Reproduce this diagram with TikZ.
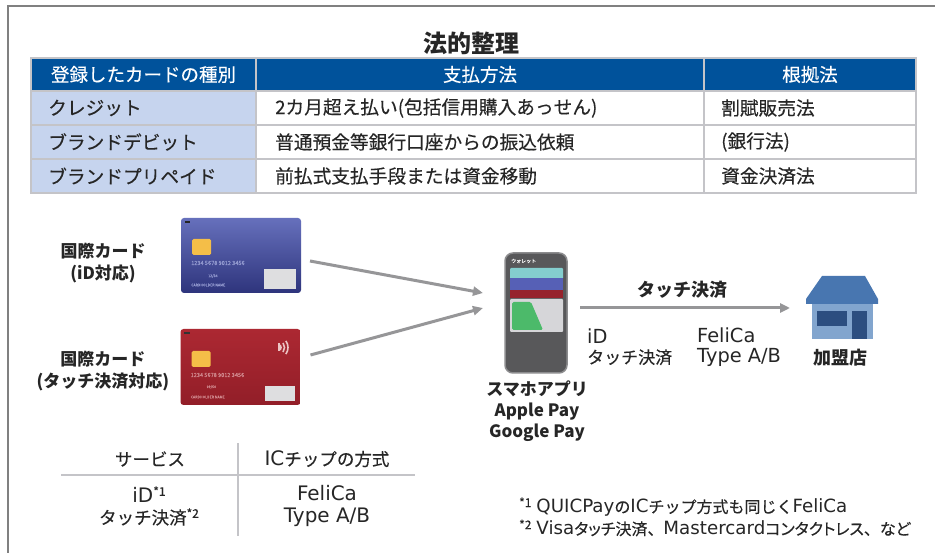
\documentclass[tikz,border=0pt]{standalone}
\usepackage{fontspec}
\setmainfont{Noto Sans CJK JP}[UprightFeatures={FakeBold=0.25}]
\newfontfamily\latf{DejaVu Sans}[Scale=1.14]
\usetikzlibrary{calc,arrows.meta}

\definecolor{txt}{RGB}{38,38,38}
\definecolor{hdrblue}{RGB}{0,82,155}
\definecolor{cellblue}{RGB}{198,212,238}
\definecolor{gridgray}{RGB}{196,196,200}
\definecolor{framegray}{RGB}{128,128,128}
\definecolor{arrgray}{RGB}{150,150,152}
\definecolor{cardblueT}{RGB}{102,112,188}
\definecolor{cardblueB}{RGB}{46,52,124}
\definecolor{cardredT}{RGB}{172,40,50}
\definecolor{cardredB}{RGB}{146,30,40}
\definecolor{chipyellow}{RGB}{244,190,72}
\definecolor{panelgray}{RGB}{222,222,224}
\definecolor{nfcpink}{RGB}{236,196,196}
\definecolor{phonebody}{RGB}{88,88,90}
\definecolor{phoneedge}{RGB}{140,140,142}
\definecolor{wcyan}{RGB}{132,206,206}
\definecolor{wblue}{RGB}{86,96,182}
\definecolor{wred}{RGB}{150,34,44}
\definecolor{wcard}{RGB}{214,214,217}
\definecolor{wgreen}{RGB}{76,186,106}
\definecolor{roofblue}{RGB}{72,118,176}
\definecolor{wallblue}{RGB}{130,165,206}
\definecolor{winblue}{RGB}{44,78,128}

\newcommand\setfs[1]{\fontsize{#1}{#1}\selectfont}
\newcommand\fnmark[1]{\raisebox{0.36em}{\fontsize{12}{12}\selectfont #1}}
\newcommand\lat[1]{{\latf #1}}
\newcommand\fullcomma{{\addfontfeatures{RawFeature=-palt}、}}

\tikzset{
  cell/.style={draw=gridgray, line width=2pt, anchor=north west, inner sep=0pt,
    outer sep=0pt, minimum height=34},
  hdtext/.style={text=white, font=\setfs{18.5}, inner sep=0pt},
  bodytext/.style={text=txt, font=\setfs{18.7}, inner sep=0pt, anchor=west},
  cardlbl/.style={text=txt, font=\bfseries\fontsize{17}{22}\selectfont, align=center, inner sep=0pt},
  plain/.style={text=txt, font=\fontsize{17}{20}\selectfont, align=left, inner sep=0pt},
  card/.style={rounded corners=3, minimum width=120, minimum height=75, inner sep=0pt, outer sep=0pt},
  flow/.style={draw=arrgray, line width=3pt, -{Triangle[length=10pt,width=9pt]}},
  tiny/.style={inner sep=0pt, anchor=west},
  rule/.style={draw=gridgray, line width=2pt},
  note/.style={text=txt, font=\setfs{16}, inner sep=0pt, anchor=west},
}

\begin{document}
\begin{tikzpicture}[x=1pt,y=-1pt]
\useasboundingbox (0,0) rectangle (935,553);
\fill[white] (0,0) rectangle (935,553);

% outer frame (top and left edges)
\draw[framegray, line width=1.5pt] (8,553) -- (8,6) -- (935,6);

% ---------- legal summary table ----------
\node[text=txt, font=\bfseries\setfs{24}, inner sep=0pt] (title) at (471,43) {法的整理};

\node[cell, fill=hdrblue, minimum width=225, minimum height=33] (h1) at (31,58) {};
\node[cell, fill=hdrblue, minimum width=448, minimum height=33] (h2) at (h1.north east) {};
\node[cell, fill=hdrblue, minimum width=212, minimum height=33] (h3) at (h2.north east) {};

\node[cell, fill=cellblue, minimum width=225] (a1) at (h1.south west) {};
\node[cell, fill=white, minimum width=448] (b1) at (a1.north east) {};
\node[cell, fill=white, minimum width=212] (c1) at (b1.north east) {};
\node[cell, fill=cellblue, minimum width=225] (a2) at (a1.south west) {};
\node[cell, fill=white, minimum width=448] (b2) at (a2.north east) {};
\node[cell, fill=white, minimum width=212] (c2) at (b2.north east) {};
\node[cell, fill=cellblue, minimum width=225] (a3) at (a2.south west) {};
\node[cell, fill=white, minimum width=448] (b3) at (a3.north east) {};
\node[cell, fill=white, minimum width=212] (c3) at (b3.north east) {};

\node[hdtext] (t-h1) at (h1) {登録したカードの種別};
\node[hdtext] (t-h2) at (h2) {支払方法};
\node[hdtext] (t-h3) at (h3) {根拠法};

\node[bodytext] (t-a1) at ($(a1.west)+(17,0)$) {クレジット};
\node[bodytext] (t-b1) at ($(b1.west)+(19,0)$) {2カ月超え払い(包括信用購入あっせん)};
\node[bodytext] (t-c1) at ($(c1.west)+(17,0)$) {割賦販売法};
\node[bodytext] (t-a2) at ($(a2.west)+(17,0)$) {ブランドデビット};
\node[bodytext] (t-b2) at ($(b2.west)+(19,0)$) {普通預金等銀行口座からの振込依頼};
\node[bodytext] (t-c2) at ($(c2.west)+(17,0)$) {(銀行法)};
\node[bodytext] (t-a3) at ($(a3.west)+(17,0)$) {ブランドプリペイド};
\node[bodytext] (t-b3) at ($(b3.west)+(19,0)$) {前払式支払手段または資金移動};
\node[bodytext] (t-c3) at ($(c3.west)+(17,0)$) {資金決済法};

% ---------- cards ----------
\node[cardlbl] (lbl1) at (103,263) {国際カード\\(iD対応)};
\node[cardlbl] (lbl2) at (103,371) {国際カード\\(タッチ決済対応)};

\node[card, top color=cardblueT, bottom color=cardblueB] (card1) at (241,255.5) {};
\begin{scope}[shift={(card1.north west)}]
  \fill[black!85] (3.5,3) rectangle (9,5);
  \fill[chipyellow, rounded corners=1.5] (11,21) rectangle (30,37);
  \node[tiny, text=cardblueT!70!white, font=\setfs{5.6}] (num1) at (10,45) {1234 5678 9012 3456};
  \node[tiny, text=cardblueT!70!white, font=\setfs{3.6}] (exp1) at (27,58) {12/34};
  \node[tiny, text=cardblueT!70!white, font=\setfs{3.6}] (nm1) at (10,67) {CARDHOLDER NAME};
  \fill[panelgray] (83,51) rectangle (115,71);
\end{scope}

\node[card, top color=cardredT, bottom color=cardredB, minimum height=76] (card2) at (240.5,367) {};
\begin{scope}[shift={(card2.north west)}]
  \fill[black!80] (3.5,3) rectangle (9,5);
  \fill[chipyellow, rounded corners=1.5] (11,22) rectangle (30,38);
  \node[tiny, text=cardredT!55!white, font=\setfs{5.6}] (num2) at (10,46) {1234 5678 9012 3456};
  \node[tiny, text=cardredT!55!white, font=\setfs{3.6}] (exp2) at (26,58) {09/50};
  \node[tiny, text=cardredT!55!white, font=\setfs{3.6}] (nm2) at (10,68) {CARDHOLDER NAME};
  \fill[panelgray] (84,57) rectangle (114,72);
  % contactless mark
  \fill[nfcpink] (97,14.5) rectangle (99,22.5);
  \foreach \r in {4.5,8,11.5}
    \draw[nfcpink, line width=1.6pt] ($(96,18.5)+(-35:\r)$) arc[start angle=-35, end angle=35, radius=\r];
\end{scope}

% ---------- smartphone wallet ----------
\node[draw=phoneedge, fill=phonebody, line width=1.5pt, rounded corners=8,
      minimum width=62, minimum height=120, inner sep=0pt, outer sep=0pt] (phone) at (536,313) {};
\begin{scope}[shift={(phone.north west)}]
  \node[tiny, text=white, font=\setfs{5}] (wallet) at (6,8) {ウォレット};
  \fill[wcyan, rounded corners=1] (5,15) rectangle (58,26);
  \fill[wblue] (5,25) rectangle (58,37);
  \fill[wred] (5,37) rectangle (58,45);
  \fill[wcard, rounded corners=1] (5,46) rectangle (58,79);
  \fill[wgreen, rounded corners=1.5] (7,49) -- (26,49) -- (38,77) -- (7,77) -- cycle;
\end{scope}

\node[text=txt, font=\bfseries\fontsize{17}{21}\selectfont, align=center, inner sep=0pt]
  (applbl) at (537,411) {スマホアプリ\\Apple Pay\\Google Pay};

% ---------- store ----------
\node[minimum width=72, minimum height=63, inner sep=0pt, outer sep=0pt] (store) at (842,307.5) {};
\begin{scope}[shift={(store.north west)}]
  \fill[wallblue] (6,27) rectangle (67,63);
  \fill[roofblue] (16,0) -- (59,0) -- (72,23) -- (72,28) -- (0,28) -- (0,23) -- cycle;
  \fill[winblue] (11,35) rectangle (41,50);
  \fill[winblue] (46,35) rectangle (61,63);
\end{scope}
\node[text=txt, font=\bfseries\setfs{18}, inner sep=0pt] (storelbl) at (840,358) {加盟店};

% ---------- connectors ----------
\draw[flow] ($(card1.east)+(9,5.5)$) -- ($(phone.west)+(-22,-20)$);
\draw[flow] ($(card2.east)+(10,-12)$) -- ($(phone.west)+(-22,-5)$);
\draw[flow] ($(phone.east)+(13,-5)$) -- ($(store.west)+(-16,0.5)$);

\node[text=txt, font=\bfseries\setfs{18}, inner sep=0pt] (touchlbl) at (682,290) {タッチ決済};
\node[plain, anchor=west] (svc) at (587,347) {\lat{iD}\\タッチ決済};
\node[plain, anchor=west] (chip) at (697,347) {\lat{FeliCa}\\\lat{Type A/B}};

% ---------- service / chip table ----------
\draw[rule] (61,475) -- (415,475);
\draw[rule] (238,443) -- (238,536);
\node[text=txt, font=\setfs{17.5}, inner sep=0pt] (svchd) at (150,459) {サービス};
\node[text=txt, font=\setfs{17.5}, inner sep=0pt] (chiphd) at (327,459) {\lat{IC}チップの方式};
\node[text=txt, font=\fontsize{17.5}{22}\selectfont, align=center, inner sep=0pt]
  (svcrow) at (149,506) {\lat{iD}\fnmark{*1}\\タッチ決済\fnmark{*2}};
\node[text=txt, font=\fontsize{17.5}{22}\selectfont, align=center, inner sep=0pt]
  (chiprow) at (327,506) {\lat{FeliCa}\\\lat{Type A/B}};

% ---------- footnotes ----------
\node[note] (note1) at (519,507)
  {\fnmark{*1}\hspace{5pt}\lat{QUICPay}の\lat{IC}チップ方式も同じく\lat{FeliCa}};
\node[note, font=\setfs{16}\addfontfeatures{RawFeature=+palt}] (note2) at (519,528)
  {\fnmark{*2}\hspace{5pt}\lat{Visa}タッチ決済\fullcomma\lat{Mastercard}コンタクトレス\fullcomma など};
\end{tikzpicture}
\end{document}
